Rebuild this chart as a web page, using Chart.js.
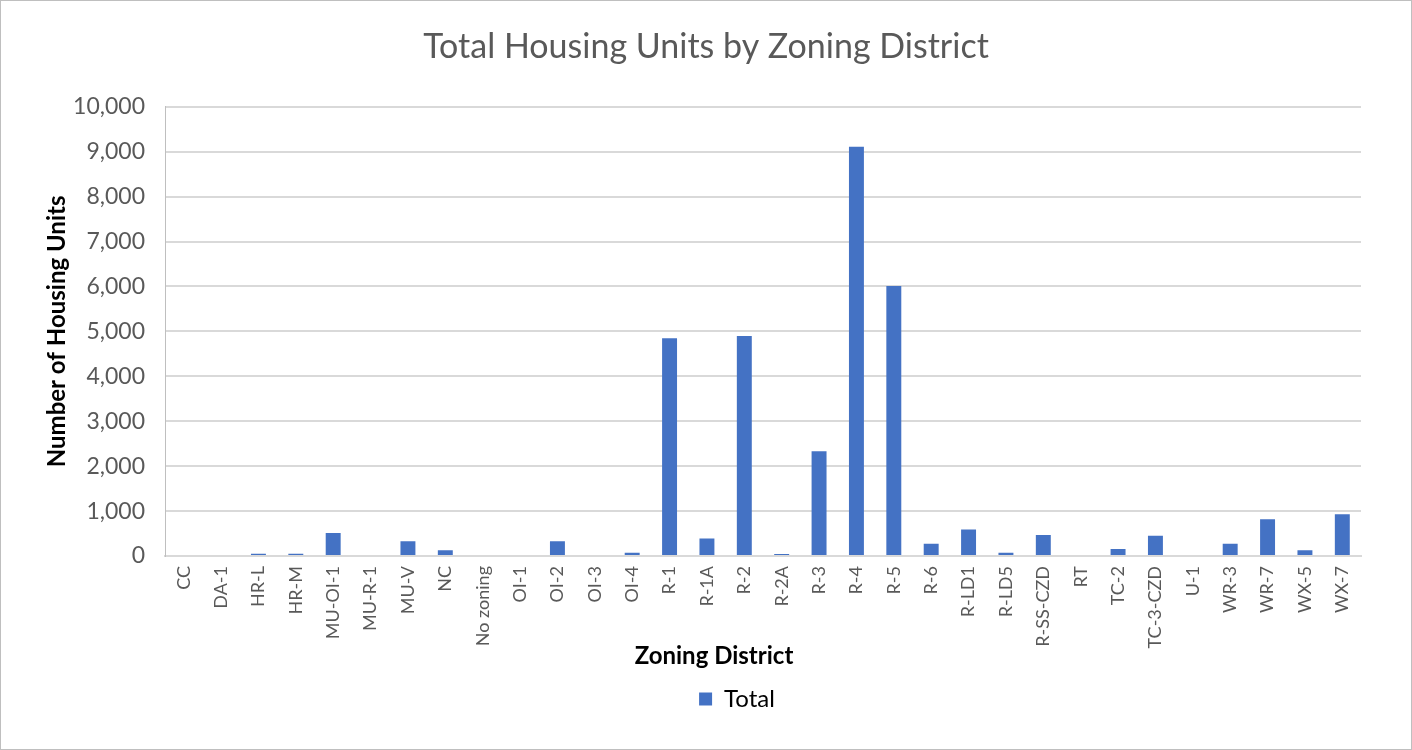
<!DOCTYPE html>
<html>
<head>
<meta charset="utf-8">
<script src="https://cdn.jsdelivr.net/npm/chart.js@4.4.1/dist/chart.umd.min.js"></script>
<style>
  html, body { margin: 0; padding: 0; background: #fff; }
  #wrap { position: relative; width: 1410px; height: 748px; border: 1px solid #bfbfbf; }
</style>
</head>
<body>
<div id="wrap"><canvas id="chart"></canvas></div>
<script>
// Zonage -> nombre d'unites
const districts = ['CC', 'DA-1', 'HR-L', 'HR-M', 'MU-OI-1', 'MU-R-1', 'MU-V', 'NC', 'No zoning', 'OI-1',
    'OI-2', 'OI-3', 'OI-4', 'R-1', 'R-1A', 'R-2', 'R-2A', 'R-3', 'R-4', 'R-5',
    'R-6', 'R-LD1', 'R-LD5', 'R-SS-CZD', 'RT', 'TC-2', 'TC-3-CZD', 'U-1', 'WR-3', 'WR-7',
    'WX-5', 'WX-7'];
const totals = [0, 0, 50, 50, 510, 0, 330, 130, 0, 0,
    330, 0, 75, 4850, 390, 4900, 45, 2330, 9110, 6010,
    270, 590, 75, 470, 0, 155, 450, 0, 275, 820,
    130, 930];
const yTicks = [0, 1000, 2000, 3000, 4000, 5000, 6000, 7000, 8000, 9000, 10000];

const FONT = 'Lato, "Open Sans", sans-serif';
const GREY = '#595959';

// Titre de l'axe X dessine a la main : Excel le centre un peu a gauche du trace
const xAxisTitle = {
    id: 'xAxisTitle',
    afterDraw(chart) {
        const { ctx, chartArea } = chart;
        ctx.save();
        ctx.font = `bold 24px ${FONT}`;
        ctx.fillStyle = '#000';
        ctx.textAlign = 'center';
        ctx.textBaseline = 'middle';
        ctx.fillText('Zoning District', chart.width / 2 + 8, chartArea.bottom + 100);
        ctx.restore();
    },
};

// La legende d'Excel est un peu decalee a droite du centre
const legendShift = {
    id: 'legendShift',
    afterLayout(chart) {
        if (!chart.legend) return;
        chart.legend.left += 31;
        chart.legend.right += 31;
    },
};

new Chart(document.getElementById('chart'), {
    type: 'bar',
    data: {
        labels: districts,
        datasets: [{
            label: 'Total',
            data: totals,
            backgroundColor: '#4472C4',
            borderWidth: 0,
            barPercentage: 0.4,
            categoryPercentage: 1.0,
        }],
    },
    plugins: [xAxisTitle, legendShift],
    options: {
        responsive: true,
        maintainAspectRatio: false,
        animation: false,
        layout: { padding: { top: 14, right: 50, bottom: 28, left: 50 } },
        plugins: {
            title: {
                display: true,
                text: 'Total Housing Units by Zoning District',
                color: GREY,
                font: { family: FONT, size: 34, weight: 'normal' },
                padding: { top: 12, bottom: 39 },
            },
            legend: {
                display: true,
                position: 'bottom',
                labels: {
                    color: '#000',
                    boxWidth: 13,
                    boxHeight: 13,
                    padding: 8,
                    font: { family: FONT, size: 24 },
                },
            },
            tooltip: { enabled: false },
        },
        scales: {
            x: {
                // hauteur fixe : labels + place pour le titre de l'axe
                afterFit: (axis) => { axis.height = 123; },
                grid: { display: false, drawTicks: false },
                border: { display: true, color: '#d9d9d9', width: 2 },
                ticks: {
                    color: GREY,
                    font: { family: FONT, size: 18 },
                    minRotation: 90,
                    maxRotation: 90,
                    autoSkip: false,
                    padding: 10,
                },
                title: { display: false },
            },
            y: {
                min: 0,
                max: 10000,
                afterBuildTicks: (axis) => { axis.ticks = yTicks.map(v => ({ value: v })); },
                // largeur fixe pour caler la zone de trace comme sur l'original
                afterFit: (axis) => { axis.width = 114; },
                grid: { color: '#d9d9d9', lineWidth: 2, drawTicks: false },
                border: { display: true, color: '#bfbfbf', width: 1 },
                ticks: {
                    color: GREY,
                    font: { family: FONT, size: 23 },
                    padding: 20,
                    callback: (v) => new Intl.NumberFormat('en-US').format(v),
                },
                title: {
                    display: true,
                    text: 'Number of Housing Units',
                    color: '#000',
                    font: { family: FONT, size: 24, weight: 'bold' },
                    padding: { top: -8, bottom: 0 },
                },
            },
        },
    },
});
</script>
</body>
</html>
